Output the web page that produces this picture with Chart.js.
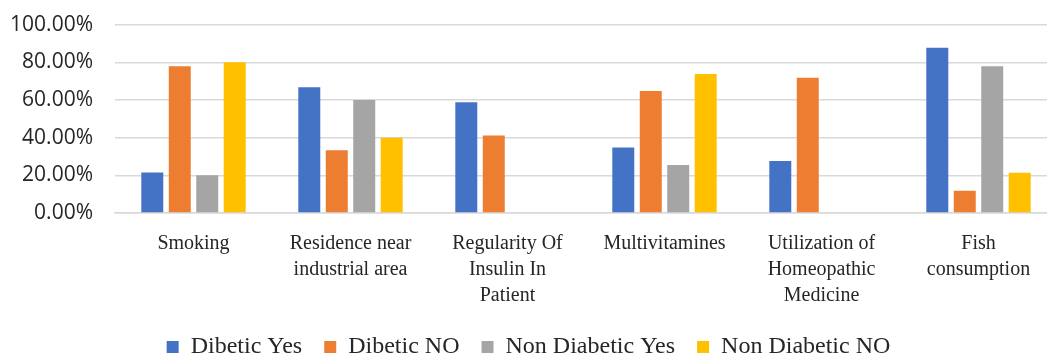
<!DOCTYPE html>
<html>
<head>
<meta charset="utf-8">
<script src="https://cdn.jsdelivr.net/npm/chart.js@4/dist/chart.umd.min.js"></script>
<style>
    html, body { margin: 0; padding: 0; background: #ffffff; overflow: hidden; }
    #wrap { position: relative; width: 1057px; height: 379px; margin-top: -10px; }
</style>
</head>
<body>
<div id="wrap"><canvas id="chart"></canvas></div>
<script>
const categories = [
    'Smoking',
    ['Residence near', 'industrial area'],
    ['Regularity Of', 'Insulin In', 'Patient'],
    'Multivitamines',
    ['Utilization of', 'Homeopathic', 'Medicine'],
    ['Fish', 'consumption']
];
const seriesNames = ['Dibetic Yes', 'Dibetic NO', 'Non Diabetic Yes', 'Non Diabetic NO'];
const dibeticYes = [21.5, 66.7, 58.8, 34.8, 27.6, 87.7];
const dibeticNo = [77.9, 33.3, 41.2, 64.7, 71.8, 11.8];
const nonDiabeticYes = [20.0, 60.0, 0, 25.5, 0, 77.9];
const nonDiabeticNo = [80.0, 40.0, 0, 73.8, 0, 21.4];
const yTicks = [0, 20, 40, 60, 80, 100];

const palette = ['#4472c4', '#ed7d31', '#a5a5a5', '#ffc000'];
const serif = "'Liberation Serif', 'DejaVu Serif', serif";
const sans = "'Open Sans', 'Liberation Sans', sans-serif";

const seriesData = [dibeticYes, dibeticNo, nonDiabeticYes, nonDiabeticNo];

new Chart(document.getElementById('chart').getContext('2d'), {
    type: 'bar',
    data: {
        labels: categories,
        datasets: seriesNames.map((name, i) => ({
            label: name,
            data: seriesData[i],
            backgroundColor: palette[i],
            borderWidth: 0,
            categoryPercentage: 0.7,
            barPercentage: 0.8
        }))
    },
    options: {
        responsive: true,
        maintainAspectRatio: false,
        animation: false,
        layout: { padding: { top: 3, right: 0, bottom: 0, left: 0 } },
        plugins: {
            tooltip: { enabled: false },
            legend: {
                position: 'bottom',
                labels: {
                    color: '#262626',
                    font: { family: serif, size: 24 },
                    boxWidth: 12,
                    boxHeight: 12,
                    padding: 22
                }
            }
        },
        scales: {
            x: {
                grid: { display: false },
                border: { color: '#d9d9d9', width: 1.5 },
                ticks: {
                    color: '#262626',
                    font: { family: serif, size: 20, lineHeight: 1.3 },
                    maxRotation: 0,
                    autoSkip: false,
                    padding: 10
                },
                afterFit: scale => { scale.height = 100; }
            },
            y: {
                min: 0,
                max: 100,
                afterBuildTicks: scale => { scale.ticks = yTicks.map(v => ({ value: v })); },
                grid: { color: '#d9d9d9', lineWidth: 1.5, drawTicks: false },
                border: { display: false },
                ticks: {
                    color: '#262626',
                    font: { family: sans, size: 21 },
                    padding: 22,
                    callback: v => v.toFixed(2) + '%'
                },
                afterFit: scale => { scale.width = 115; }
            }
        }
    }
});
</script>
</body>
</html>
